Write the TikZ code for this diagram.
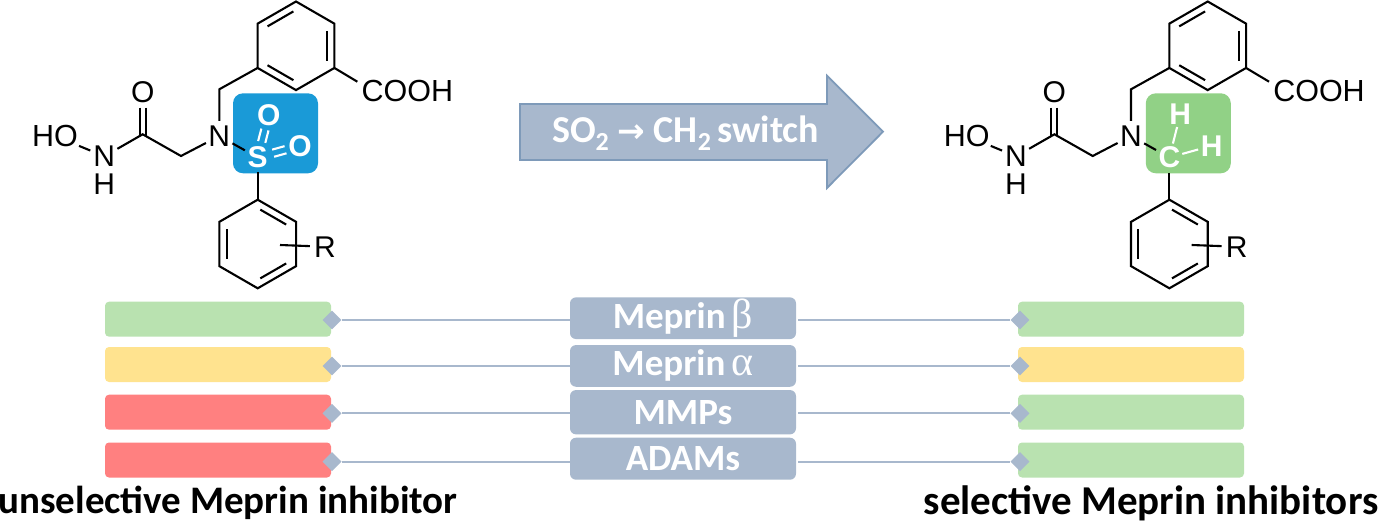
\documentclass[tikz,border=0pt]{standalone}
\usepackage{fontspec}
\setmainfont{Carlito}
\newfontfamily\atomfont{Liberation Sans}
\newfontfamily\greekfont{Liberation Serif}
\newfontfamily\symfont{DejaVu Sans}
\usetikzlibrary{calc, shapes.geometric}
\usetikzlibrary{backgrounds}

\definecolor{slate}{HTML}{A8B8CD}
\definecolor{slateedge}{HTML}{7E9AB9}
\definecolor{goodbar}{HTML}{B9E2B0}
\definecolor{midbar}{HTML}{FFE38F}
\definecolor{badbar}{HTML}{FF8080}
\definecolor{sulfbox}{HTML}{1A9AD7}
\definecolor{carbbox}{HTML}{91D186}

\tikzset{
    bond/.style={line width=2.1pt, line join=miter},
    atom/.style={circle, inner sep=0pt, font=\atomfont\fontsize{30}{30}\selectfont},
    whiteatom/.style={circle, inner sep=0pt, text=white, font=\atomfont\bfseries\fontsize{30}{30}\selectfont},
    group/.style={inner sep=1pt, font=\atomfont\fontsize{30.5}{30.5}\selectfont},
    subbox/.style={rounded corners=10pt, minimum width=85pt, minimum height=80pt, inner sep=0pt},
    barbox/.style={rounded corners=4pt, minimum width=226pt, minimum height=35pt, inner sep=0pt},
    enzyme/.style={fill=slate, rounded corners=6pt, minimum width=226pt, inner sep=0pt, text=white,
        font=\bfseries\fontsize{37}{37}\selectfont},
    tip/.style={diamond, fill=slate, minimum size=19pt, inner sep=0pt},
    link/.style={draw=slate, line width=2pt},
    caption/.style={inner sep=0pt, font=\bfseries\fontsize{39}{39}\selectfont}
}
\newcommand{\subtwo}{\raisebox{-0.22em}{\fontsize{26}{26}\selectfont 2}}

\begin{document}
\begin{tikzpicture}[x=1pt, y=-1pt]
    \useasboundingbox (0,0) rectangle (1379,524);

    % The two molecules share one skeleton
    \foreach \m/\dx/\boxcol/\core/\boxx in {L/0/sulfbox/S/275.5, R/911.7/carbbox/C/276.6}{
    \begin{scope}[xshift=\dx]
        \begin{pgfonlayer}{background}
            \node[subbox, fill=\boxcol] (\m box) at (\boxx,133.3) {};
        \end{pgfonlayer}

        % Rings: T on top, B below
        \foreach \r/\cx/\cy/\off in {T/296/45.8/0, B/257.7/244/1}{
            \coordinate (\m\r C) at (\cx,\cy);
            \foreach \x in {1,...,6}{
                \pgfmathsetmacro{\angle}{60*\x+30} % Hexagon vertices angle
                \pgfmathsetmacro{\xcoord}{\cx+44.3*cos(\angle)}
                \pgfmathsetmacro{\ycoord}{\cy+44.3*sin(\angle)}
                \coordinate (\m\r\x) at (\xcoord,\ycoord);
            }
            \draw[bond] (\m\r1) \foreach \x in {2,...,6}{-- (\m\r\x)} -- cycle;
            \foreach \s in {0,2,4}{
                \pgfmathtruncatemacro{\first}{mod(\s+\off,6)+1}
                \pgfmathtruncatemacro{\nextvertex}{mod(\first,6)+1}
                \draw[bond, shorten <=3pt, shorten >=3pt]
                    ($(\m\r C)!0.81!(\m\r\first)$) -- ($(\m\r C)!0.81!(\m\r\nextvertex)$);
            }
        }

        % Atoms and corner points of the chain
        \node[group] (\m HO) at (55,136) {HO};
        \node[atom] (\m NH) at (104.3,156.3) {N};
        \node[atom] (\m H) at (104.3,184) {H};
        \coordinate (\m CO) at (142.7,134.3);
        \node[atom] (\m O) at (142.7,91.7) {O};
        \coordinate (\m CA) at (181,156);
        \node[atom] (\m N) at (219.3,136) {N};
        \coordinate (\m CB) at (219.3,89.3);
        \node[group] (\m COOH) at (407.3,90.7) {COOH};
        \node[atom] (\m R) at (325,246.7) {R};
        \coordinate (\m RB) at (280,245);
        \node[whiteatom] (\m X) at (257.7,157.5) {\core};

        % Chain bonds
        \draw[bond] (\m HO) -- (\m NH);
        \draw[bond] (\m NH) -- (\m CO) -- (\m CA) -- (\m N);
        \draw[bond] ([xshift=-3pt]\m O.south) -- ([xshift=-3pt,yshift=-1.7pt]\m CO);
        \draw[bond] ([xshift=3pt]\m O.south) -- ([xshift=3pt,yshift=-1.7pt]\m CO);
        \draw[bond] (\m N) -- (\m CB) -- (\m T2);
        \draw[bond] (\m T6) -- ([xshift=-3pt,yshift=9pt]\m COOH.west);
        \draw[bond] (\m RB) -- (\m R);
        \draw[bond] (\m N) -- (\m X);
        \draw[bond] (\m X) -- (\m B4);
    \end{scope}
    }

    % Substituents in the coloured boxes
    \node[whiteatom] (LO1) at (268.7,115) {O};
    \node[whiteatom] (LO2) at (300,145.7) {O};
    \foreach \s in {-3.7,3.7}{
        \draw[bond, white] ($(LX)!16pt!(LO1)!\s pt!90:(LO1)$) -- ($(LO1)!15pt!(LX)!-\s pt!90:(LX)$);
        \draw[bond, white] ($(LX)!16pt!(LO2)!\s pt!90:(LO2)$) -- ($(LO2)!15pt!(LX)!-\s pt!90:(LX)$);
    }
    \node[whiteatom] (RH1) at (1180.3,114.3) {H};
    \node[whiteatom] (RH2) at (1211.7,145.7) {H};
    \draw[bond, white, shorten <=-1pt, shorten >=-2pt] (RX) -- (RH1);
    \draw[bond, white, shorten <=-2pt, shorten >=-1pt] (RX) -- (RH2);

    % Switch arrow
    \draw[fill=slate, draw=slateedge, line width=1.8pt, line join=miter]
        (520,104) -- (827,104) -- (827,75.7) -- (883,131.7) -- (827,188) -- (827,160) -- (520,160) -- cycle;
    \node[inner sep=0pt, text=white, font=\bfseries\fontsize{38}{38}\selectfont] (switch) at (685.5,133)
        {SO\subtwo{} {\symfont\fontsize{33}{33}\selectfont→} CH\subtwo{}\,switch};

    % Bars, diamonds and the enzyme boxes between them
    \foreach \i/\lab/\ybar/\ybox/\boxh/\yline/\cl/\cr in {
        1/{Meprin\,{\greekfont\mdseries\fontsize{42}{42}\selectfont β}}/319.2/318.2/41.7/320/goodbar/goodbar,
        2/{Meprin\,{\greekfont\mdseries\fontsize{42}{42}\selectfont α}}/364.5/365.9/41.7/366/midbar/midbar,
        3/{MMPs}/412.2/412.2/44.3/413.4/badbar/goodbar,
        4/{ADAMs}/460/458.7/42/461.6/badbar/goodbar}{
        \node[barbox, fill=\cl] (barL\i) at (218,\ybar) {};
        \node[barbox, fill=\cr] (barR\i) at (1131,\ybar) {};
        \node[enzyme, minimum height=\boxh pt] (enz\i) at (683,\ybox) {\lab};
        \node[tip] (tipL\i) at (332,\yline) {};
        \node[tip] (tipR\i) at (1020,\yline) {};
        \draw[link] (tipL\i) -- (tipL\i -| enz\i.west);
        \draw[link] ([xshift=2pt]tipR\i -| enz\i.east) -- (tipR\i);
    }

    % Captions
    \node[caption] (capL) at (228,503) {unselective Meprin inhibitor};
    \node[caption, font=\bfseries\fontsize{41}{41}\selectfont] (capR) at (1151,503) {selective Meprin inhibitors};
\end{tikzpicture}
\end{document}
